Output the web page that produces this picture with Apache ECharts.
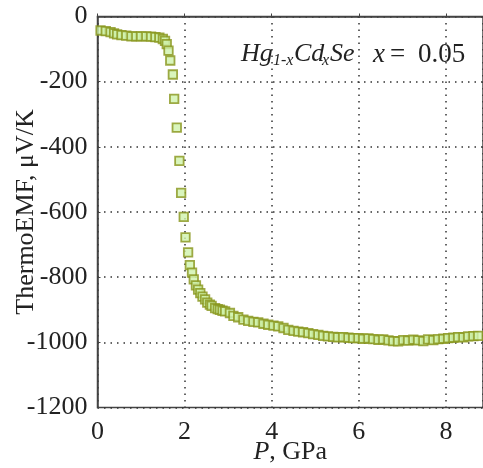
<!DOCTYPE html>
<html>
<head>
<meta charset="utf-8">
<script src="https://cdn.jsdelivr.net/npm/echarts@6/dist/echarts.min.js"></script>
<style>
html,body{margin:0;padding:0;background:#fff;}
#chart{width:483px;height:468px;}
</style>
</head>
<body>
<div id="chart"></div>
<script>
// Pressure, GPa
var pressure = [0.07,0.19,0.30,0.38,0.45,0.55,0.66,0.78,0.89,1.00,1.12,1.23,1.33,1.42,1.50,1.55,1.59,1.63,1.67,1.73,1.76,1.82,1.88,1.92,1.98,2.02,2.08,2.12,2.17,2.21,2.26,2.31,2.36,2.41,2.47,2.52,2.58,2.62,2.70,2.76,2.81,2.87,2.93,3.04,3.12,3.23,3.35,3.46,3.58,3.69,3.81,3.92,4.04,4.15,4.27,4.38,4.50,4.61,4.72,4.84,4.95,5.07,5.18,5.29,5.41,5.52,5.64,5.76,5.87,5.99,6.10,6.22,6.33,6.45,6.56,6.68,6.79,6.90,7.02,7.13,7.25,7.36,7.48,7.59,7.71,7.82,7.94,8.05,8.17,8.28,8.40,8.51,8.63,8.74];
// ThermoEMF, uV/K
var thermoEMF = [-43,-45,-48,-52,-55,-57,-59,-61,-61,-61,-61,-62,-63,-65,-69,-75,-85,-105,-135,-178,-253,-341,-443,-541,-615,-678,-724,-763,-786,-807,-825,-838,-849,-860,-868,-878,-884,-888,-895,-898,-900,-903,-905,-910,-919,-923,-930,-934,-937,-939,-943,-946,-949,-951,-956,-962,-965,-967,-969,-972,-975,-977,-980,-982,-983,-985,-984,-986,-987,-987,-989,-988,-990,-992,-991,-994,-996,-997,-993,-995,-992,-994,-996,-991,-993,-990,-989,-987,-986,-984,-985,-982,-981,-980];
var xTicks = [0,2,4,6,8];
var yTicks = [0,-200,-400,-600,-800,-1000,-1200];

var FONT = '"Liberation Serif", "Times New Roman", serif';
var TXT = '#222';
var pts = pressure.map(function(p,i){return [p, thermoEMF[i]];});

var chart = echarts.init(document.getElementById('chart'), null, {renderer:'canvas'});
var gridLine = {show:true, lineStyle:{color:'#333', width:1.5, type:[1.5,5]}};
function t(x, y, text, size, italic){
  return {type:'text', x:x, y:y, style:{text:text, font:(italic?'italic ':'')+size+'px '+FONT, fill:TXT, align:'left', verticalAlign:'top'}};
}
chart.setOption({
  animation:false,
  backgroundColor:'#fff',
  grid:{left:97.5, top:16.5, right:0, bottom:60.5, containLabel:false, outerBoundsMode:'none',
    show:true, borderColor:'#444', borderWidth:1.5, backgroundColor:'transparent'},
  xAxis:{type:'value', min:0, max:8.85, interval:2,
    axisLine:{show:true, lineStyle:{color:'#444', width:1.5}},
    axisTick:{show:true, inside:true, length:3, lineStyle:{color:'#444'}},
    axisLabel:{fontFamily:FONT, fontSize:26, color:TXT, margin:12,
      formatter:function(v){return xTicks.indexOf(v)>=0 ? String(v) : '';}},
    splitLine:gridLine,
    name:'{i|P}, GPa', nameLocation:'middle', nameGap:32, nameMoveOverlap:false,
    nameTextStyle:{fontFamily:FONT, fontSize:26, color:TXT, verticalAlign:'top',
      rich:{i:{fontFamily:FONT, fontSize:26, fontStyle:'italic', color:TXT}}}
  },
  yAxis:{type:'value', min:-1200, max:0, interval:200,
    axisLine:{show:true, lineStyle:{color:'#444', width:1.5}},
    axisTick:{show:true, inside:true, length:3, lineStyle:{color:'#444'}},
    axisLabel:{fontFamily:FONT, fontSize:26, color:TXT, margin:10,
      formatter:function(v){return yTicks.indexOf(v)>=0 ? String(v) : '';}},
    splitLine:gridLine,
    name:'ThermoEMF, \u03bcV/K', nameLocation:'middle', nameGap:58, nameRotate:90, nameMoveOverlap:false,
    nameTextStyle:{fontFamily:FONT, fontSize:26, color:TXT}
  },
  series:[{type:'scatter', data:pts, symbol:'rect', symbolSize:8.5,
    itemStyle:{color:'#cff2ad', borderColor:'#87951a', borderWidth:1.8}}],
  graphic:[
    t(241, 41, 'Hg', 26, true),
    t(273, 53, '1-x', 16, true),
    t(294, 41, 'Cd', 26, true),
    t(322, 53, 'x', 16, true),
    t(330, 41, 'Se', 26, true),
    t(373, 41, 'x', 27, true),
    t(390, 41, '=', 27, false),
    t(418, 41, '0.05', 27, false)
  ]
});
</script>
</body>
</html>
